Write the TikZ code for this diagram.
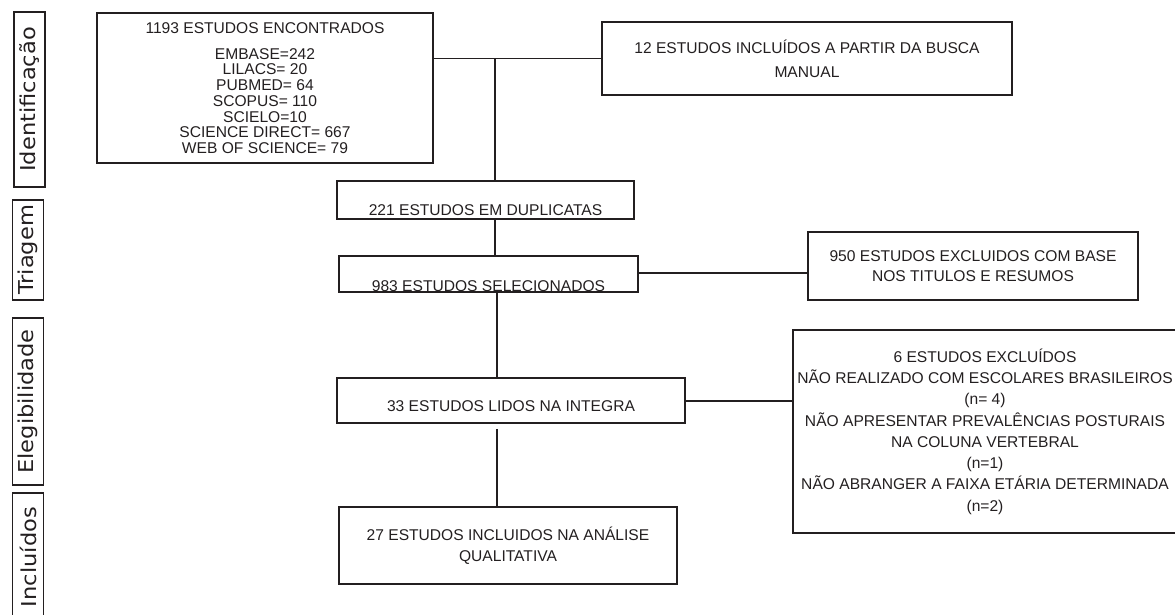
\documentclass[tikz,border=0pt]{standalone}
\usepackage{fontspec}
\setmainfont{Liberation Sans}
\newfontfamily\labfont[FakeStretch=1.1]{DejaVu Sans}
\definecolor{ink}{HTML}{231F20}
\begin{document}
\begin{tikzpicture}[x=1pt,y=-1pt,
  box/.style={draw=ink, line width=1.6pt, rectangle, inner sep=0pt, align=center, text=ink},
  phase/.style={draw=ink, line width=1.4pt, rectangle, inner sep=0pt, rotate=90, text=ink,
    minimum height=31pt, font=\labfont\fontsize{20.5}{22}\selectfont},
  link/.style={draw=ink, line width=1.6pt},
  f/.style={font=\fontsize{15.6}{#1}\selectfont}
]
\useasboundingbox (0,0) rectangle (1175,615);

% phase labels
\node[phase, minimum width=175pt] (pid) at (29.5,99.5) {Identificação};
\node[phase, minimum width=100pt] (ptr) at (28,250) {Triagem};
\node[phase, minimum width=167pt] (pel) at (28,401.5) {Elegibilidade};
\node[phase, minimum width=128pt] (pin) at (28,557) {Incluídos};

% boxes
\node[box, f=15.7, minimum width=336pt, minimum height=150pt] (b1) at (265,88)
  {1193 ESTUDOS ENCONTRADOS\\[10.3pt]EMBASE=242\\LILACS= 20\\PUBMED= 64\\SCOPUS= 110\\SCIELO=10\\SCIENCE DIRECT= 667\\WEB OF SCIENCE= 79};
\node[box, f=24, minimum width=410pt, minimum height=73pt] (b12) at (807,58.5)
  {12 ESTUDOS INCLUÍDOS A PARTIR DA BUSCA\\MANUAL};
\node[box, f=18, minimum width=297pt, minimum height=38pt] (b221) at (485.5,200)
  {\raisebox{-10pt}[\height][\depth]{221 ESTUDOS EM DUPLICATAS}};
\node[box, f=18, minimum width=299pt, minimum height=36pt] (b983) at (488.5,274)
  {\raisebox{-12pt}[\height][\depth]{983 ESTUDOS SELECIONADOS}};
\node[box, f=20, minimum width=330pt, minimum height=68pt] (b950) at (973,266)
  {950 ESTUDOS EXCLUIDOS COM BASE\\NOS TITULOS E RESUMOS};
\node[box, f=18, minimum width=348pt, minimum height=45pt] (b33) at (511,400.5)
  {\raisebox{-6pt}[\height][\depth]{33 ESTUDOS LIDOS NA INTEGRA}};
\node[box, f=21.3, minimum width=384pt, minimum height=203pt] (b6) at (985,431.5)
  {6 ESTUDOS EXCLUÍDOS\\NÃO REALIZADO COM ESCOLARES BRASILEIROS\\(n= 4)\\NÃO APRESENTAR PREVALÊNCIAS POSTURAIS\\NA COLUNA VERTEBRAL\\(n=1)\\NÃO ABRANGER A FAIXA ETÁRIA DETERMINADA\\(n=2)};
\node[box, f=21, minimum width=338pt, minimum height=77pt] (b27) at (508,545.5)
  {27 ESTUDOS INCLUIDOS NA ANÁLISE\\QUALITATIVA};

% junction coordinates
\coordinate (j1) at (495,58.5);
\coordinate (j2) at (497,0);

% connectors
\draw[link] (b1.east |- j1) -- (b12.west |- j1);
\draw[link] (j1) -- (b221.north -| j1);
\draw[link] (b221.south -| j1) -- (b983.north -| j1);
\draw[link] (b983.east |- 0,273) -- (b950.west |- 0,273);
\draw[link] (b983.south -| j2) -- (b33.north -| j2);
\draw[link] (b33.east |- 0,401) -- (b6.west |- 0,401);
\draw[link] ([yshift=-5pt]b33.south -| j2) -- (b27.north -| j2);
\end{tikzpicture}
\end{document}
